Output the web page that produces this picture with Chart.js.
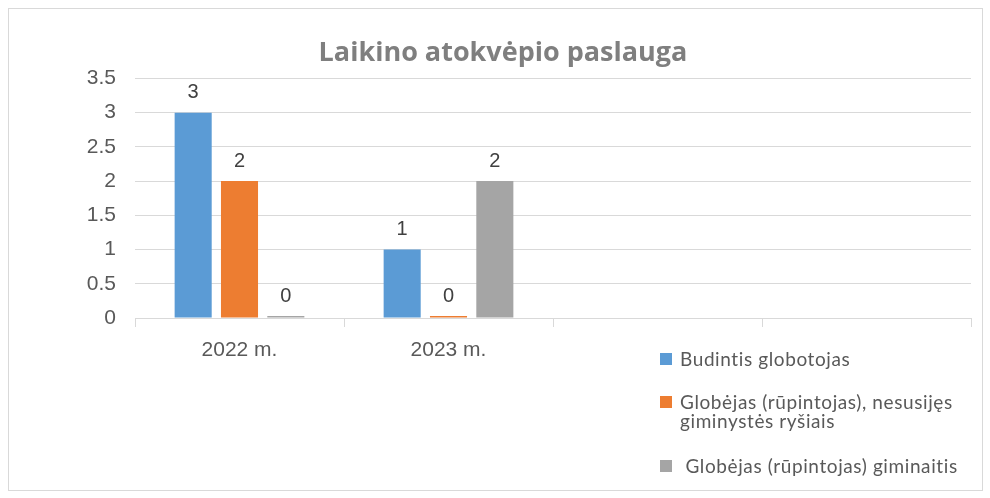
<!DOCTYPE html>
<html>
<head>
<meta charset="utf-8">
<script src="https://cdn.jsdelivr.net/npm/chart.js@4.4.1/dist/chart.umd.min.js"></script>
<style>
  body { margin: 0; background: #fff; }
  #wrap { position: relative; width: 990px; height: 498px; }
  #frame { position: absolute; left: 8px; top: 8px; width: 973px; height: 481px; border: 1px solid #d9d9d9; }
  #legend { position: absolute; left: 0; top: 0; font-family: Lato, sans-serif; font-size: 19px; letter-spacing: 0.6px; color: #595959; }
  .item { position: absolute; left: 660px; width: 320px; line-height: 19px; }
  .box { position: absolute; left: 0; top: 4px; width: 12px; height: 12px; }
  .txt { position: absolute; left: 20px; width: 300px; white-space: pre-wrap; }
</style>
</head>
<body>
<div id="wrap">
  <div id="frame"></div>
  <canvas id="barChart" width="990" height="498"></canvas>
  <div id="legend"></div>
</div>
<script>
const categories = ["2022 m.", "2023 m.", "", ""];
const seriesNames = [
  "Budintis globotojas",
  "Globėjas (rūpintojas), nesusijęs giminystės ryšiais",
  " Globėjas (rūpintojas) giminaitis",
];
const budintis = [3, 1, null, null];
const nesusijes = [2, 0, null, null];
const giminaitis = [0, 2, null, null];
const seriesColors = ["#5b9bd5", "#ed7d31", "#a5a5a5"];
const legendTops = [349, 392, 456];

// small replacement for the datalabels plugin (not available offline)
const valueLabels = {
  id: "valueLabels",
  afterDatasetsDraw(chart) {
    const ctx = chart.ctx;
    ctx.save();
    ctx.font = "20px 'Liberation Sans', Arial, sans-serif";
    ctx.fillStyle = "#404040";
    ctx.textAlign = "center";
    ctx.textBaseline = "bottom";
    chart.data.datasets.forEach((ds, i) => {
      chart.getDatasetMeta(i).data.forEach((bar, j) => {
        if (ds.data[j] === null) return;
        ctx.fillText(String(ds.data[j]), bar.x, bar.y - 10);
      });
    });
    ctx.restore();
  },
};

const ctx = document.getElementById("barChart").getContext("2d");
const chart = new Chart(ctx, {
  type: "bar",
  data: {
    labels: categories,
    datasets: [budintis, nesusijes, giminaitis].map((values, i) => ({
      label: seriesNames[i],
      data: values,
      backgroundColor: seriesColors[i],
      borderWidth: 0,
      minBarLength: 2,
      barPercentage: 0.8,
      categoryPercentage: 0.665,
    })),
  },
  options: {
    responsive: false,
    animation: false,
    layout: { padding: { left: 35, right: 19, top: 0, bottom: 0 } },
    plugins: {
      legend: { display: false },
      tooltip: { enabled: false },
      title: {
        display: true,
        text: "Laikino atokvėpio paslauga",
        color: "#7f7f7f",
        font: { family: "'Open Sans'", size: 27, weight: "bold" },
        padding: { top: 37, bottom: 9 },
      },
    },
    scales: {
      x: {
        grid: {
          drawOnChartArea: false,
          drawTicks: true,
          tickLength: 9,
          color: "#d9d9d9",
          offset: true,
        },
        border: { display: true, color: "#d9d9d9" },
        ticks: {
          color: "#595959",
          font: { family: "'Liberation Sans', Arial", size: 21 },
          padding: 11,
          maxRotation: 0,
        },
        afterFit: (scale) => { scale.height = 180; },
      },
      y: {
        min: 0,
        max: 3.5,
        ticks: {
          stepSize: 0.5,
          color: "#595959",
          font: { family: "'Liberation Sans', Arial", size: 21 },
          padding: 19,
          callback: (value) => String(value),
        },
        grid: { color: "#d9d9d9", drawTicks: false },
        border: { display: false },
        afterFit: (scale) => { scale.width = 100; },
      },
    },
  },
  plugins: [valueLabels],
});

// legend built from the chart datasets, laid out like the original
const legendEl = document.getElementById("legend");
chart.data.datasets.forEach((ds, i) => {
  const item = document.createElement("div");
  item.className = "item";
  item.style.top = legendTops[i] + "px";
  item.innerHTML = `<span class="box" style="background:${ds.backgroundColor}"></span><span class="txt"></span>`;
  item.querySelector(".txt").textContent = ds.label;
  legendEl.appendChild(item);
});
</script>
</body>
</html>
